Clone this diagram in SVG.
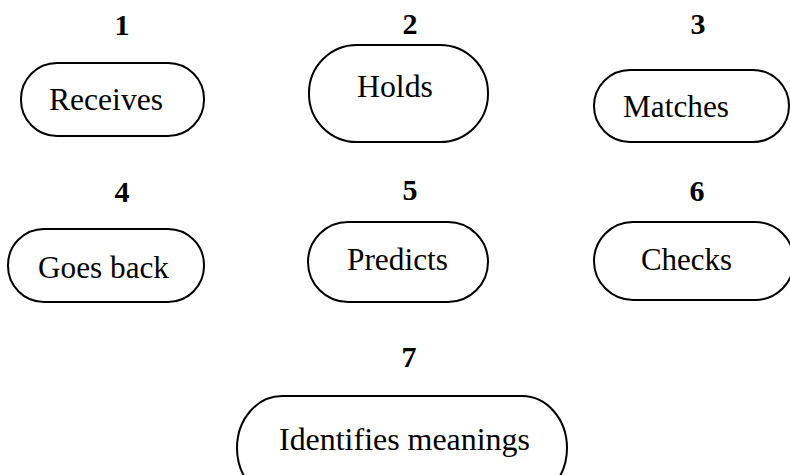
<svg xmlns="http://www.w3.org/2000/svg" width="790" height="475" viewBox="0 0 790 475">
<style>
.box{fill:#fff;stroke:#000;stroke-width:2}
.lbl{font-family:"Liberation Serif","Times New Roman",serif;font-size:31px;fill:#000}
.num{font-family:"Liberation Serif","Times New Roman",serif;font-size:30px;font-weight:bold;fill:#000;text-anchor:middle}
</style>
<rect width="790" height="475" fill="#fff"/>
<g id="connectors"></g>
<g id="node1">
<text class="num" x="122" y="35">1</text>
<rect class="box" x="21" y="63" width="183" height="73" rx="36" ry="36"/>
<text class="lbl" x="49" y="110" textLength="114" lengthAdjust="spacingAndGlyphs">Receives</text>
</g>
<g id="node2">
<text class="num" x="410" y="34">2</text>
<rect class="box" x="309" y="45" width="179" height="97" rx="48" ry="48"/>
<text class="lbl" x="357" y="97" textLength="76" lengthAdjust="spacingAndGlyphs">Holds</text>
</g>
<g id="node3">
<text class="num" x="698" y="34">3</text>
<rect class="box" x="594" y="70" width="195" height="72" rx="36" ry="36"/>
<text class="lbl" x="623" y="117" textLength="106" lengthAdjust="spacingAndGlyphs">Matches</text>
</g>
<g id="node4">
<text class="num" x="122" y="202">4</text>
<rect class="box" x="8" y="229" width="196" height="73" rx="36" ry="36"/>
<text class="lbl" x="38" y="278" textLength="131" lengthAdjust="spacingAndGlyphs">Goes back</text>
</g>
<g id="node5">
<text class="num" x="410" y="200">5</text>
<rect class="box" x="308" y="222" width="180" height="80" rx="40" ry="40"/>
<text class="lbl" x="347" y="270" textLength="101" lengthAdjust="spacingAndGlyphs">Predicts</text>
</g>
<g id="node6">
<text class="num" x="697" y="201">6</text>
<rect class="box" x="594" y="222" width="200" height="78" rx="39" ry="39"/>
<text class="lbl" x="641" y="270" textLength="91" lengthAdjust="spacingAndGlyphs">Checks</text>
</g>
<g id="node7">
<text class="num" x="409" y="367">7</text>
<rect class="box" x="237" y="396" width="330" height="104" rx="45" ry="52"/>
<text class="lbl" x="279" y="450" textLength="251" lengthAdjust="spacingAndGlyphs">Identifies meanings</text>
</g>
</svg>
